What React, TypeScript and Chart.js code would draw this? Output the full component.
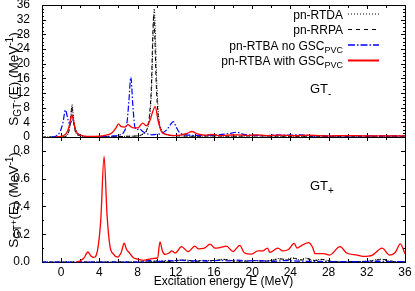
import React, { useEffect, useRef } from 'react';
import { Chart, registerables } from 'chart.js';
Chart.register(...registerables);

const FONT = '"Liberation Sans", Arial, Helvetica, sans-serif';

type P = [number, number];

// ---- axis ticks ----
const X_TICKS = [0, 4, 8, 12, 16, 20, 24, 28, 32, 36];
const TOP_Y_TICKS = [0, 4, 8, 12, 16, 20, 24, 28, 32, 36];
const BOT_Y_TICKS = [0, 0.2, 0.4, 0.6, 0.8];

// ---- legend ----
const LEGEND_MAIN = ['pn-RTDA', 'pn-RRPA', 'pn-RTBA no GSC', 'pn-RTBA with GSC'];
const LEGEND_SUB = ['', '', 'PVC', 'PVC'];

// ---- GT- panel (MeV^-1) ----
const TOP_RTDA: P[] = [
  [-2, 0], [0, 0], [0.5, 0.2], [0.8, 1.5], [1.0, 5], [1.15, 8.9], [1.3, 5], [1.5, 1.5], [1.9, 0.4], [2.5, 0.1],
  [4, 0.05], [6, 0.1], [7, 0.2], [8, 0.3], [8.6, 0.8], [9.0, 2], [9.3, 6], [9.5, 15], [9.65, 30], [9.75, 35],
  [9.85, 30], [10.0, 16], [10.2, 6], [10.5, 2], [10.9, 0.8], [11.5, 0.4], [12.5, 0.3], [14, 0.2], [16, 0.3],
  [18, 0.2], [20, 0.3], [24, 0.2], [28, 0.2], [32, 0.2], [36, 0.2],
];
const TOP_RRPA: P[] = [
  [-2, 0], [0, 0], [0.5, 0.2], [0.8, 1.4], [1.0, 4.6], [1.12, 8.3], [1.28, 4.8], [1.5, 1.4], [1.9, 0.4], [2.5, 0.1],
  [4, 0.05], [6, 0.1], [7, 0.2], [8, 0.3], [8.6, 0.9], [9.0, 2.2], [9.25, 6], [9.45, 14], [9.6, 28], [9.7, 33.5],
  [9.8, 28], [9.95, 15], [10.15, 6], [10.45, 2], [10.9, 0.8], [11.5, 0.4], [12.5, 0.3], [14, 0.2], [16, 0.3],
  [18, 0.2], [20, 0.3], [24, 0.2], [28, 0.2], [32, 0.2], [36, 0.2],
];
const TOP_NOGSC: P[] = [
  [-1, 0], [-0.5, 0.3], [-0.1, 1.5], [0.2, 4], [0.45, 7.4], [0.7, 5], [0.9, 3.5], [1.2, 4.8], [1.45, 2.5],
  [1.8, 0.8], [2.3, 0.3], [3, 0.1], [4.5, 0.1], [5.5, 0.3], [6.2, 0.6], [6.6, 1.5], [6.9, 4], [7.1, 10],
  [7.3, 16.3], [7.5, 9], [7.7, 3], [7.9, 2], [8.2, 2.2], [8.5, 1.6], [9.0, 0.9], [9.5, 0.6], [10.0, 0.7],
  [10.5, 1.0], [11.0, 1.8], [11.4, 3.2], [11.75, 4.2], [12.0, 3.0], [12.3, 1.5], [12.8, 0.7], [13.5, 0.5],
  [14.5, 0.4], [15.5, 0.5], [16.5, 0.6], [17.5, 0.9], [18.4, 1.3], [19, 0.8], [20, 0.5], [21.5, 0.4],
  [22.5, 0.6], [23.5, 0.5], [25, 0.6], [26, 0.4], [27, 0.3], [30, 0.3], [33, 0.3], [36, 0.3],
];
const TOP_GSC: P[] = [
  [-0.5, 0], [0.2, 0.3], [0.6, 1.2], [0.85, 3], [1.1, 6], [1.3, 4.5], [1.5, 2], [1.8, 0.8], [2.3, 0.3],
  [3, 0.15], [4, 0.2], [4.7, 0.5], [5.3, 1.1], [5.75, 2.5], [6.0, 3.6], [6.3, 2.8], [6.65, 2.7], [7.0, 3.4],
  [7.3, 2.8], [7.6, 2.5], [8.05, 2.5], [8.55, 3.8], [8.9, 3.1], [9.3, 4.5], [9.6, 7], [9.85, 8.3], [10.15, 4.5],
  [10.5, 1.5], [11.0, 0.7], [11.8, 0.4], [12.6, 0.6], [13.2, 1.0], [13.7, 1.5], [14.2, 0.9], [15.0, 0.5],
  [15.8, 0.7], [16.5, 0.4], [17.5, 0.5], [18.5, 0.6], [19.5, 0.4], [20.5, 0.6], [21.5, 0.4], [23, 0.5],
  [24.5, 0.4], [26, 0.5], [28, 0.3], [30, 0.4], [32, 0.3], [34, 0.3], [36, 0.3],
];

// ---- GT+ panel (MeV^-1) ----
const BOT_RTDA: P[] = [
  [-2, 0], [9, 0], [10, 0.008], [11, 0.004], [12, 0.01], [13, 0.015], [14, 0.005], [15, 0.012], [16, 0.01],
  [17, 0.02], [18, 0.008], [19, 0.005], [20, 0.01], [21, 0.006], [22, 0.012], [22.8, 0.025], [23.5, 0.018],
  [24.2, 0.03], [25, 0.015], [25.6, 0.028], [26.3, 0.012], [27.2, 0.02], [28, 0.005], [30, 0.003], [32, 0.006],
  [33.5, 0.02], [34.5, 0.004], [36, 0.002],
];
const BOT_RRPA: P[] = [
  [-2, 0], [9, 0], [10.2, 0.007], [11.2, 0.004], [12.2, 0.012], [13.2, 0.012], [14.2, 0.005], [15.3, 0.01],
  [16.3, 0.012], [17.2, 0.018], [18.2, 0.007], [19.3, 0.006], [20.3, 0.01], [21.3, 0.006], [22.3, 0.014],
  [23, 0.022], [23.7, 0.015], [24.4, 0.026], [25.2, 0.014], [25.8, 0.024], [26.6, 0.01], [27.4, 0.018],
  [28.3, 0.005], [30.5, 0.003], [32.3, 0.006], [33.7, 0.018], [34.8, 0.004], [36, 0.002],
];
const BOT_NOGSC: P[] = [
  [-2, 0], [8.5, 0], [9.3, 0.012], [9.8, 0.003], [10.5, 0.005], [11.2, 0.012], [12, 0.006], [12.6, 0.014],
  [13.3, 0.006], [14.5, 0.01], [15.5, 0.006], [16.5, 0.012], [17.5, 0.008], [18.5, 0.014], [19.5, 0.008],
  [20.5, 0.01], [22, 0.005], [23.5, 0.01], [25, 0.006], [27, 0.004], [30, 0.003], [33, 0.004], [36, 0.003],
];
const BOT_GSC: P[] = [
  [1.6, 0], [2.0, 0.008], [2.4, 0.03], [2.8, 0.072], [3.1, 0.045], [3.4, 0.033], [3.8, 0.08], [4.15, 0.3],
  [4.5, 0.76], [4.8, 0.35], [5.1, 0.12], [5.5, 0.055], [5.9, 0.035], [6.3, 0.07], [6.6, 0.135], [6.85, 0.09],
  [7.1, 0.07], [7.5, 0.035], [8.0, 0.02], [8.6, 0.012], [9.2, 0.02], [9.7, 0.026], [10.1, 0.03], [10.35, 0.145],
  [10.6, 0.08], [10.9, 0.055], [11.3, 0.065], [11.6, 0.08], [11.95, 0.065], [12.6, 0.11], [13.3, 0.075],
  [14.0, 0.115], [14.35, 0.095], [15.0, 0.1], [15.6, 0.128], [16.1, 0.1], [16.7, 0.105], [17.3, 0.114],
  [18.0, 0.075], [18.7, 0.12], [19.2, 0.065], [19.95, 0.057], [20.6, 0.08], [21.1, 0.08], [21.6, 0.1],
  [21.85, 0.07], [22.7, 0.1], [23.2, 0.08], [23.8, 0.09], [24.4, 0.134], [24.7, 0.1], [25.2, 0.12],
  [25.5, 0.13], [25.9, 0.14], [26.3, 0.11], [26.6, 0.06], [27.5, 0.06], [28.1, 0.05], [29.2, 0.11],
  [29.9, 0.065], [31.0, 0.05], [31.6, 0.04], [32.6, 0.05], [33.6, 0.1], [34.4, 0.05], [35.0, 0.07],
  [35.5, 0.13], [36, 0.06],
];

const STYLES = [
  { color: '#000000', dash: [1, 1.6], width: 1, legendDash: [1, 2], legendWidth: 1 },
  { color: '#000000', dash: [4, 3], width: 1, legendDash: [4, 4], legendWidth: 1 },
  { color: '#0000ff', dash: [6, 2, 1.5, 2], width: 1.2, legendDash: [7, 2, 1.5, 2], legendWidth: 1.3 },
  { color: '#ff0000', dash: [], width: 1.3, legendDash: [], legendWidth: 2 },
];

const toXY = (a: P[]) => a.map(([x, y]) => ({ x, y }));

function datasets(series: P[][]) {
  const order = [3, 2, 1, 0];
  return order.map((i) => ({
    label: LEGEND_MAIN[i],
    data: toXY(series[i]),
    borderColor: STYLES[i].color,
    borderDash: STYLES[i].dash,
    borderWidth: STYLES[i].width,
    pointRadius: 0,
    fill: false,
    cubicInterpolationMode: 'monotone' as const,
    clip: 3,
  }));
}

type Run = [string, number, number];
function drawRuns(ctx: CanvasRenderingContext2D, runs: Run[], x: number, y: number, align: 'left' | 'right' | 'center') {
  const widths = runs.map(([t, s]) => {
    ctx.font = `${s}px ${FONT}`;
    return ctx.measureText(t).width;
  });
  const total = widths.reduce((a, b) => a + b, 0);
  let cx = align === 'left' ? x : align === 'right' ? x - total : x - total / 2;
  ctx.textAlign = 'left';
  runs.forEach(([t, s, dy], i) => {
    ctx.font = `${s}px ${FONT}`;
    ctx.fillText(t, cx, y + dy);
    cx += widths[i];
  });
}

function framePlugin(yMajor: number[], yMinorStep: number, yMax: number) {
  return {
    id: 'frame',
    beforeDatasetsDraw(chart: any) {
      const { ctx, chartArea } = chart;
      const { left, right, top, bottom } = chartArea;
      const xs = chart.scales.x;
      const ys = chart.scales.y;
      ctx.save();
      ctx.strokeStyle = '#000';
      ctx.lineWidth = 1;
      ctx.setLineDash([]);
      ctx.strokeRect(left + 0.5, top + 0.5, right - left, bottom - top);
      ctx.beginPath();
      for (let v = -2; v <= 36.001; v += 2) {
        const px = Math.round(xs.getPixelForValue(v)) + 0.5;
        const len = X_TICKS.includes(Math.round(v)) ? 4 : 3;
        ctx.moveTo(px, bottom);
        ctx.lineTo(px, bottom - len);
        ctx.moveTo(px, top);
        ctx.lineTo(px, top + len);
      }
      const n = Math.round(yMax / yMinorStep);
      for (let k = 0; k <= n; k++) {
        const v = k * yMinorStep;
        const major = yMajor.some((m) => Math.abs(m - v) < 1e-6);
        const len = major ? 4 : 2;
        const py = Math.round(ys.getPixelForValue(v)) + 0.5;
        ctx.moveTo(left, py);
        ctx.lineTo(left + len, py);
        ctx.moveTo(right, py);
        ctx.lineTo(right - len, py);
      }
      ctx.stroke();
      ctx.restore();
    },
  };
}

const Y_TITLE_TOP: Run[] = [['S', 13.5, 0], ['GT', 10, 2.5], ['-', 9, -1.5], ['(E) (MeV', 13.5, 0], ['-1', 10, -5.5], [')', 13.5, 0]];
const Y_TITLE_BOT: Run[] = [['S', 13.5, 0], ['GT', 10, 2.5], ['+', 9, -1.5], ['(E) (MeV', 13.5, 0], ['-1', 10, -5.5], [')', 13.5, 0]];

const topText = {
  id: 'topText',
  afterDraw(chart: any) {
    const { ctx } = chart;
    ctx.save();
    ctx.fillStyle = '#000';
    ctx.textBaseline = 'alphabetic';
    const rowsY = [18.5, 34, 49.5, 65];
    LEGEND_MAIN.forEach((t, i) => {
      const runs: Run[] = [[t, 12, 0]];
      if (LEGEND_SUB[i]) runs.push([LEGEND_SUB[i], 9, 3]);
      drawRuns(ctx, runs, 343, rowsY[i], 'right');
      const ly = rowsY[i] - 4.5;
      ctx.beginPath();
      ctx.strokeStyle = STYLES[i].color;
      ctx.lineWidth = STYLES[i].legendWidth;
      ctx.setLineDash(STYLES[i].legendDash);
      ctx.moveTo(348, ly);
      ctx.lineTo(379, ly);
      ctx.stroke();
    });
    ctx.setLineDash([]);
    drawRuns(ctx, [['GT', 13, 0], ['-', 10, 4]], 310, 93, 'left');
    ctx.translate(18, 79);
    ctx.rotate(-Math.PI / 2);
    drawRuns(ctx, Y_TITLE_TOP, 0, 0, 'center');
    ctx.restore();
  },
};

const botText = {
  id: 'botText',
  afterDraw(chart: any) {
    const { ctx } = chart;
    ctx.save();
    ctx.fillStyle = '#000';
    ctx.textBaseline = 'alphabetic';
    drawRuns(ctx, [['GT', 13, 0], ['+', 10, 4]], 310, 190, 'left');
    ctx.translate(18, 200);
    ctx.rotate(-Math.PI / 2);
    drawRuns(ctx, Y_TITLE_BOT, 0, 0, 'center');
    ctx.restore();
  },
};

export default function App() {
  const topRef = useRef<HTMLCanvasElement>(null);
  const botRef = useRef<HTMLCanvasElement>(null);

  useEffect(() => {
    Chart.defaults.font.family = FONT;
    Chart.defaults.font.size = 12;
    Chart.defaults.color = '#000';

    const yAxisCommon = (ticks: number[], fmt: (v: number) => string) => ({
      type: 'linear' as const,
      grid: { display: false },
      border: { display: false },
      afterBuildTicks: (s: any) => {
        s.ticks = ticks.map((v) => ({ value: v }));
      },
      afterFit: (s: any) => {
        s.width = 42;
        s.paddingTop = 0;
        s.paddingBottom = 0;
      },
      ticks: {
        padding: 4,
        autoSkip: false,
        color: '#000',
        font: { size: 12, family: FONT },
        callback: (v: any) => fmt(Number(v)),
      },
    });

    const top = new Chart(topRef.current!, {
      type: 'line',
      data: { datasets: datasets([TOP_RTDA, TOP_RRPA, TOP_NOGSC, TOP_GSC]) as any },
      options: {
        animation: false,
        responsive: false,
        maintainAspectRatio: false,
        layout: { padding: { top: 5, right: 10, bottom: 154, left: 0 } },
        plugins: { legend: { display: false }, tooltip: { enabled: false } },
        scales: {
          x: { type: 'linear', min: -2, max: 36, display: false },
          y: { ...yAxisCommon(TOP_Y_TICKS, (v) => String(v)), min: 0, max: 36 },
        },
      },
      plugins: [framePlugin(TOP_Y_TICKS, 1, 36), topText],
    });

    const bot = new Chart(botRef.current!, {
      type: 'line',
      data: { datasets: datasets([BOT_RTDA, BOT_RRPA, BOT_NOGSC, BOT_GSC]) as any },
      options: {
        animation: false,
        responsive: false,
        maintainAspectRatio: false,
        layout: { padding: { top: 137, right: 10, bottom: 0, left: 0 } },
        plugins: { legend: { display: false }, tooltip: { enabled: false } },
        scales: {
          x: {
            type: 'linear',
            min: -2,
            max: 36,
            grid: { display: false, drawTicks: false },
            border: { display: false },
            afterBuildTicks: (s: any) => {
              s.ticks = X_TICKS.map((v) => ({ value: v }));
            },
            afterFit: (s: any) => {
              s.height = 29;
              s.paddingLeft = 0;
              s.paddingRight = 0;
            },
            ticks: { padding: 3, maxRotation: 0, autoSkip: false, color: '#000', font: { size: 12, family: FONT } },
            title: {
              display: true,
              text: 'Excitation energy E (MeV)',
              color: '#000',
              font: { size: 12, family: FONT },
              padding: { top: 0, bottom: 2 },
            },
          },
          y: { ...yAxisCommon(BOT_Y_TICKS, (v) => v.toFixed(1)), min: 0, max: 0.9 },
        },
      },
      plugins: [framePlugin(BOT_Y_TICKS, 0.1, 0.9), botText],
    });

    return () => {
      top.destroy();
      bot.destroy();
    };
  }, []);

  const cs: React.CSSProperties = { position: 'absolute', left: 0, top: 0, width: 415, height: 291 };
  return (
    <div style={{ position: 'fixed', left: 0, top: 0, width: 415, height: 291, background: '#fff' }}>
      <canvas ref={topRef} width={415} height={291} style={cs} />
      <canvas ref={botRef} width={415} height={291} style={cs} />
    </div>
  );
}
